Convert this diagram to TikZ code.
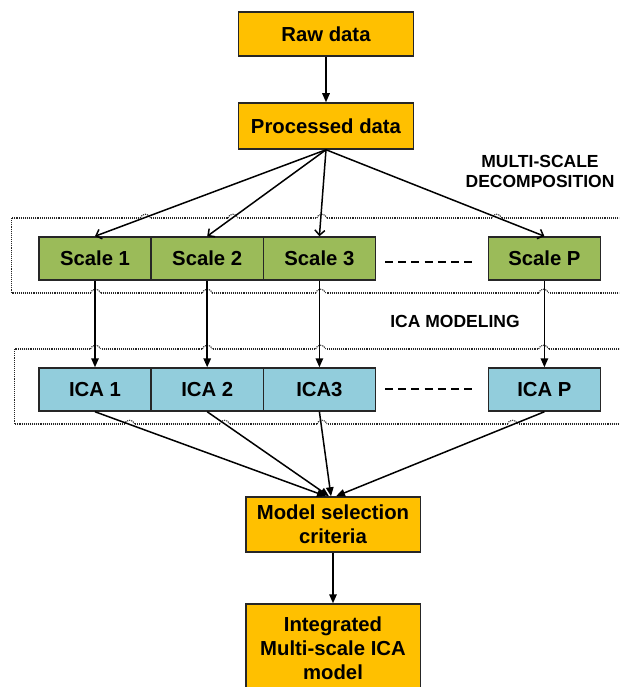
\documentclass[tikz,border=0pt]{standalone}
\usepackage{fontspec}
\setmainfont{Liberation Sans}
\usetikzlibrary{arrows.meta,calc}
\definecolor{orng}{HTML}{FFC000}
\definecolor{grn}{HTML}{9BBB59}
\definecolor{blu}{HTML}{92CDDC}
\begin{document}
\begin{tikzpicture}[x=1pt,y=-1pt,
  box/.style={draw=black!85, line width=1.5pt, font=\fontsize{20.3}{24}\selectfont\bfseries, align=center, inner sep=0pt, minimum height=43pt},
  obox/.style={box, fill=orng, minimum width=175pt},
  sbox/.style={box, fill=grn, minimum width=112.2pt},
  ibox/.style={box, fill=blu, minimum width=112.2pt},
  lbl/.style={font=\fontsize{17.5}{20}\selectfont\bfseries, align=center},
  arr/.style={line width=1.5pt, -{Triangle[length=9pt,width=7.5pt]}},
  barb/.style={line width=1.5pt, -{Straight Barb[length=5pt,width=10pt]}},
  grp/.style={densely dotted, line width=1.1pt, black!85},
  sep/.style={line width=1.6pt, dash pattern=on 8pt off 5.2pt},
]
\clip (0,0) rectangle (619,687);
\fill[white] (0,0) rectangle (619,687);

% group frames
\draw[grp] (11.8,218) rectangle (640,293);
\draw[grp] (14.6,349) rectangle (640,424);
\foreach \x/\y in {145.3/218, 232.9/218, 321.8/218, 496.6/218,
                   95.5/293, 207.3/293, 320.6/293, 543.6/293,
                   95.5/349, 207.3/349, 320.6/349, 543.6/349,
                   129.5/424, 224.5/424, 322/424, 512.5/424}{
  \fill[white] ({\x-5},{\y-1.7}) rectangle ({\x+5},{\y+1.7});
  \draw[grp] ({\x-5},\y) .. controls ({\x-4},{\y-5}) and ({\x+4},{\y-5}) .. ({\x+5},\y);
}

% nodes
\node[obox, minimum height=44pt] (raw) at (326,34) {Raw data};
\node[obox, minimum height=46pt] (proc) at (326,126) {Processed data};

\node[sbox] (s1) at (95,258.5) {Scale 1};
\node[sbox] (s2) at (207.2,258.5) {Scale 2};
\node[sbox] (s3) at (319.4,258.5) {Scale 3};
\node[sbox] (sP) at (544.4,258.5) {Scale P};

\node[ibox] (i1) at (95,389.5) {ICA 1};
\node[ibox] (i2) at (207.2,389.5) {ICA 2};
\node[ibox] (i3) at (319.4,389.5) {ICA3};
\node[ibox] (iP) at (544.4,389.5) {ICA P};

\node[obox, minimum width=174.5pt, minimum height=55pt] (msel) at (333,524.5) {Model selection\\criteria};
\node[obox, minimum width=174.5pt, minimum height=88pt] (integ) at (333,648) {Integrated\\Multi-scale ICA\\model};

\node[lbl] (lms) at (540,171) {MULTI-SCALE\\DECOMPOSITION};
\node[lbl] (lica) at (455,321) {ICA MODELING};

% separators
\coordinate (d1a) at (385,262);
\coordinate (d1b) at (473,262);
\coordinate (d2a) at (385,389);
\coordinate (d2b) at (473,389);
\draw[sep] (d1a) -- (d1b);
\draw[sep] (d2a) -- (d2b);

% connectors
\draw[arr] (raw) -- (proc);
\foreach \s in {s1,s2,s3,sP}{\draw[barb] (proc.south) -- (\s.north);}
\draw[arr] (s1) -- (i1);
\draw[arr] (s2) -- (i2);
\draw[arr] (s3) -- (i3);
\draw[arr] (sP) -- (iP);
\coordinate (m1) at ($(msel.north)+(-7,0)$);
\coordinate (m2) at ($(msel.north)+(-4,0)$);
\coordinate (m3) at ($(msel.north)+(-2,0)$);
\coordinate (mP) at ($(msel.north)+(3,0)$);
\draw[arr] (i1.south) -- (m1);
\draw[arr] (i2.south) -- (m2);
\draw[arr] (i3.south) -- (m3);
\draw[arr] (iP.south) -- (mP);
\draw[arr] (msel) -- (integ);
\end{tikzpicture}
\end{document}
